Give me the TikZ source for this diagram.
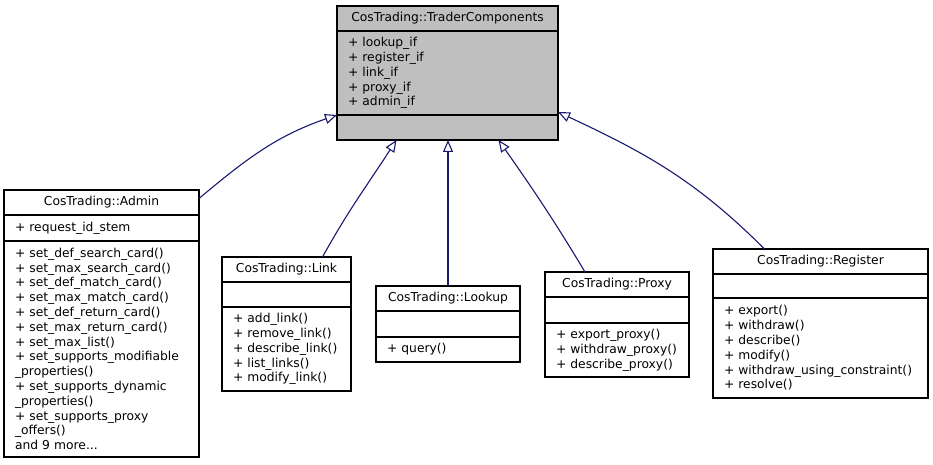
\documentclass[tikz,border=0pt]{standalone}
\usepackage{fontspec}
\setmainfont{DejaVu Sans}
\usetikzlibrary{positioning}
\usetikzlibrary{arrows.meta}

\definecolor{edgeblue}{RGB}{25,25,112}
\definecolor{basegray}{RGB}{191,191,191}
\hyphenpenalty=10000
\exhyphenpenalty=10000

\tikzset{
  classname/.style={draw=black, line width=1.2pt, outer sep=0pt, inner sep=0pt,
    minimum height=25pt, anchor=north west, align=center},
  members/.style={draw=black, line width=1.2pt, outer sep=0pt, inner xsep=11pt,
    inner ysep=0pt, align=left},
  inherit/.style={draw=edgeblue, line width=1.1pt,
    -{Triangle[open, length=12pt, width=10pt]}},
}

\begin{document}
\begin{tikzpicture}[x=1pt, y=1pt, font=\fontsize{12.3}{14.8}\selectfont]
  \useasboundingbox (0,0) rectangle (933,464);

  % base class
  \node [classname, fill=basegray, minimum width=221pt] (tc) at (337,458)
    {CosTrading::TraderComponents};
  \node [members, fill=basegray, text width=199pt, minimum height=84pt,
    below=0pt of tc] (tcattr)
    {+ lookup\_if\\+ register\_if\\+ link\_if\\+ proxy\_if\\+ admin\_if};
  \node [members, fill=basegray, text width=199pt, minimum height=25pt,
    below=0pt of tcattr] (tcmeth) {};

  % derived classes
  \node [classname, minimum width=195pt] (admin) at (4,274) {CosTrading::Admin};
  \node [members, text width=173pt, minimum height=26pt, below=0pt of admin]
    (adminattr) {+ request\_id\_stem};
  \node [members, text width=173pt, minimum height=216pt, below=0pt of adminattr]
    (adminmeth)
    {+ set\_def\_search\_card()\\+ set\_max\_search\_card()\\+ set\_def\_match\_card()\\
     + set\_max\_match\_card()\\+ set\_def\_return\_card()\\+ set\_max\_return\_card()\\
     + set\_max\_list()\\+ set\_supports\_modifiable\\\_properties()\\
     + set\_supports\_dynamic\\\_properties()\\+ set\_supports\_proxy\\\_offers()\\
     and 9 more...};

  \node [classname, minimum width=129pt] (link) at (222,207) {CosTrading::Link};
  \node [members, text width=107pt, minimum height=25pt, below=0pt of link]
    (linkattr) {};
  \node [members, text width=107pt, minimum height=84pt, below=0pt of linkattr]
    (linkmeth)
    {+ add\_link()\\+ remove\_link()\\+ describe\_link()\\+ list\_links()\\+ modify\_link()};

  \node [classname, minimum width=144pt] (lookup) at (376,178) {CosTrading::Lookup};
  \node [members, text width=122pt, minimum height=26pt, below=0pt of lookup]
    (lookupattr) {};
  \node [members, text width=122pt, minimum height=25pt, below=0pt of lookupattr]
    (lookupmeth) {+ query()};

  \node [classname, minimum width=144pt] (proxy) at (545,192) {CosTrading::Proxy};
  \node [members, text width=122pt, minimum height=26pt, below=0pt of proxy]
    (proxyattr) {};
  \node [members, text width=122pt, minimum height=54pt, below=0pt of proxyattr]
    (proxymeth)
    {+ export\_proxy()\\+ withdraw\_proxy()\\+ describe\_proxy()};

  \node [classname, minimum width=215pt] (register) at (713,215) {CosTrading::Register};
  \node [members, text width=193pt, minimum height=24pt, below=0pt of register]
    (registerattr) {};
  \node [members, text width=193pt, minimum height=100pt, below=0pt of registerattr]
    (registermeth)
    {+ export()\\+ withdraw()\\+ describe()\\+ modify()\\
     + withdraw\_using\_constraint()\\+ resolve()};

  % inheritance
  \draw [inherit] ([yshift=4pt]admin.east) to [out=40, in=199] (tcmeth.north west);
  \draw [inherit] ([xshift=36pt]link.north) to [out=61, in=237] ([xshift=-51pt]tcmeth.south);
  \draw [inherit] (lookup.north) -- (lookup.north |- tcmeth.south);
  \draw [inherit] ([xshift=-32pt]proxy.north) to [out=121, in=-55] ([xshift=51pt]tcmeth.south);
  \draw [inherit] ([xshift=-56pt]register.north) to [out=135, in=-25] ([yshift=3pt]tcmeth.north east);
\end{tikzpicture}
\end{document}
